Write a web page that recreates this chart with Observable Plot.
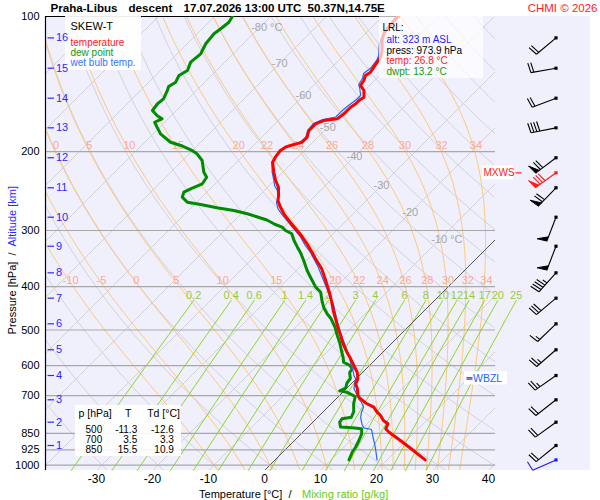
<!DOCTYPE html>
<html><head><meta charset="utf-8">
<script src="https://cdn.jsdelivr.net/npm/d3@7"></script>
<script src="https://cdn.jsdelivr.net/npm/@observablehq/plot@0.6"></script>
<style>
body{margin:0;background:#fff;}
#chart svg{display:block;}
</style>
</head><body><div id="chart"></div>
<script>
// ---------------- data ----------------
const titleParts = ["Praha-Libus", "descent", "17.07.2026 13:00 UTC", "50.37N,14.75E"];
const copyright = "CHMI \u00a9 2026";

const pressureLevels = [100, 200, 300, 400, 500, 600, 700, 850, 925, 1000];
const temperatureTicks = [-30, -20, -10, 0, 10, 20, 30, 40];

const altitudeKm = [16, 15, 14, 13, 12, 11, 10, 9, 8, 7, 6, 5, 4, 3, 2, 1];
const altitudePressure = [111.6, 130.4, 152.1, 177.1, 206.5, 240.9, 280.2, 325.2, 372.8, 424.6, 484.3, 553.4, 631.5, 715.4, 802.5, 904.6];

const tempPressure = [973.9, 915.3, 881.6, 844.9, 830.3, 809.2, 795.5, 775.4, 762.4, 743.1, 727.2, 708.1, 699.8, 676.2, 659.0, 642.3, 620.9, 599.9, 574.9, 560.4, 536.7, 514.3, 492.8, 472.0, 452.3, 437.0, 415.1, 387.8, 365.2, 346.9, 335.3, 321.2, 307.8, 297.4, 285.0, 275.3, 263.9, 257.2, 250.6, 240.2, 232.1, 222.4, 211.3, 205.9, 198.9, 195.6, 193.9, 191.6, 190.5, 185.8, 179.6, 173.5, 170.6, 169.1, 164.8, 159.3, 156.5, 153.9, 151.3, 146.2, 142.5, 138.9, 135.4, 133.1, 129.7, 126.4, 123.2, 119.1, 113.1, 109.3, 105.6, 101.2, 100.0];
const tempValue = [26.8, 21.9, 18.9, 15.4, 14.2, 13.7, 12.3, 10.9, 9.7, 8.2, 6.0, 4.0, 3.3, 2.0, 0.8, 0.3, -1.0, -2.8, -5.0, -6.4, -8.6, -10.5, -12.5, -14.4, -16.3, -17.7, -19.9, -23.0, -25.8, -28.7, -30.5, -32.9, -35.4, -37.6, -40.3, -42.4, -44.6, -45.8, -46.6, -48.1, -49.8, -51.6, -53.6, -54.0, -54.3, -54.0, -53.4, -52.3, -51.9, -51.9, -52.8, -52.8, -51.9, -49.8, -49.5, -49.5, -49.2, -49.2, -48.9, -50.1, -51.6, -51.9, -52.5, -52.2, -52.5, -52.8, -53.1, -54.0, -55.8, -56.7, -57.0, -57.3, -57.1];

const dewPressure = [973.9, 936.3, 912.5, 881.6, 851.9, 830.3, 826.0, 822.6, 802.5, 788.7, 782.2, 759.7, 730.2, 703.4, 688.0, 683.2, 674.1, 656.3, 641.3, 621.8, 610.1, 599.9, 589.8, 574.9, 555.4, 532.3, 514.3, 492.8, 472.0, 460.0, 444.7, 429.7, 411.8, 401.3, 381.3, 368.4, 349.9, 335.3, 326.8, 315.8, 305.1, 300.0, 294.9, 290.9, 284.3, 275.3, 270.7, 267.0, 262.5, 259.4, 252.8, 246.4, 242.2, 236.0, 228.2, 222.4, 209.4, 202.4, 198.9, 193.9, 190.7, 182.6, 176.5, 172.1, 169.1, 166.2, 162.0, 156.5, 152.6, 146.2, 143.2, 140.1, 135.4, 131.9, 126.4, 121.1, 115.0, 109.3, 106.5, 103.0, 100.0];
const dewValue = [13.2, 12.4, 12.1, 11.5, 10.8, 9.9, 8.0, 5.8, 4.8, 4.6, 6.0, 5.4, 4.0, 3.0, 0.7, -0.8, -0.2, -0.9, -1.1, -2.3, -2.5, -3.5, -5.2, -6.2, -7.7, -9.5, -11.1, -13.0, -15.2, -16.8, -18.6, -20.1, -21.8, -23.6, -26.3, -28.1, -30.5, -32.6, -34.0, -35.8, -37.4, -39.1, -40.3, -42.0, -44.3, -48.9, -51.9, -55.4, -58.9, -61.7, -63.5, -64.1, -63.5, -62.3, -62.7, -64.1, -66.5, -68.6, -70.1, -73.0, -75.4, -78.7, -80.5, -81.8, -81.1, -82.6, -84.3, -84.6, -84.4, -85.2, -85.7, -85.2, -85.8, -85.2, -86.1, -85.8, -86.7, -87.0, -86.7, -86.4, -86.8];

const wetPressure = [973.9, 928.0, 896.6, 870.4, 833.2, 826.0, 812.1, 783.4, 762.4, 743.1, 724.2, 711.6, 699.8, 688.0, 676.2, 659.0, 642.3, 631.5, 620.9, 605.2, 589.8, 574.9, 555.4, 536.7, 514.3, 492.8, 472.0, 440.8, 422.5, 401.3, 381.3, 362.2, 346.9, 335.3, 324.0, 310.5, 298.9, 287.5, 276.3, 268.4, 259.4, 254.9, 244.3, 238.1, 232.1, 222.4, 211.3, 205.9, 198.9, 194.9, 191.9, 186.1, 179.6, 173.2, 169.7, 167.5, 162.9, 157.9, 153.1, 150.0, 144.7, 141.8, 137.5, 134.0, 129.9, 125.3, 122.2, 116.1, 112.0, 105.6, 100.0];
const wetValue = [18.2, 16.3, 14.9, 13.6, 11.8, 10.1, 9.2, 7.7, 6.9, 6.4, 5.1, 4.0, 3.2, 2.3, 1.4, 0.6, -0.1, -1.0, -1.7, -2.8, -4.0, -5.0, -6.7, -8.3, -10.4, -12.3, -14.2, -17.1, -19.2, -21.7, -24.2, -26.7, -29.0, -30.8, -32.9, -35.2, -37.6, -40.1, -42.6, -44.3, -45.8, -46.1, -47.7, -49.1, -50.1, -51.9, -53.7, -54.1, -54.5, -54.1, -52.3, -52.1, -53.0, -53.2, -52.3, -50.4, -50.4, -50.2, -49.8, -49.8, -51.2, -52.1, -52.5, -53.2, -52.9, -53.2, -53.7, -55.4, -56.3, -57.0, -57.1];

// wind barbs at altitude levels (km 16 .. 1)
const windDirection = [230, 260, 249, 259, 233, 224, 201, 201, 222, 230, 226, 229, 235, 232, 234, 231];
const windSpeed = [20, 20, 20, 40, 70, 70, 50, 50, 45, 30, 15, 25, 25, 20, 20, 20];
const mxwsPressure = 223.1, mxwsDirection = 234, mxwsSpeed = 80;
const surfacePressure = 973.9, surfaceDirection = 246, surfaceSpeed = 10;
const wbzlPressure = 641;

// background diagram lines
const isothermValues = d3.range(-130, 50, 10);
const isothermLabelTemps = [-80, -70, -60, -50, -40, -30, -20, -10];
const isothermLabelPressure = [106, 127.1, 150, 176.5, 205.2, 238.1, 273.9, 314.7];
const dryAdiabatValues = d3.range(-30, 210, 10);
const moistAdiabatValues = [-10, -5, 0, 5, 10, 15, 20, 22, 24, 26, 28, 30, 32, 34];
const moistLabelsUpper = [0, 5, 10, 15, 20, 22, 24, 26, 28, 30, 32, 34];
const mixingRatios = [0.2, 0.4, 0.6, 1, 1.4, 2, 3, 4, 6, 8, 10, 12, 14, 17, 20, 25];

const lrlLines = ["LRL:", "alt: 323 m ASL", "press: 973.9 hPa", "temp: 26.8 \u00b0C", "dwpt: 13.2 \u00b0C"];
const tableLevels = [500, 700, 850];
const tableT = [-11.3, 3.5, 15.5];
const tableTd = [-12.6, 3.3, 10.9];

// ---------------- geometry ----------------
const FONT = "'Liberation Sans', Arial, sans-serif";
const W = 600, H = 500, ML = 45, MR = 105, MT = 16, MB = 30;
const pxPerC = 5.6, pxPerLn = 194.8, x0px = 264;
const pTop = 100;
const pBot = pTop * Math.exp((H - MB - MT) / pxPerLn);
const xMin = (ML - x0px) / pxPerC, xMax = (W - MR - x0px) / pxPerC;
const K = pxPerLn / pxPerC;
const skew = (T, p) => T + K * Math.log(pBot / p);
const px2X = px => xMin + (px - ML) / pxPerC;
const py2P = py => pTop * Math.exp((py - MT) / pxPerLn);

const profile = (P, V) => P.map((p, i) => ({p, X: skew(V[i], p)}));
const tempData = profile(tempPressure, tempValue);
const dewData = profile(dewPressure, dewValue);
const wetData = profile(wetPressure, wetValue);

// physics helpers for the background lines
const es = Tc => 6.112 * Math.exp(17.67 * Tc / (Tc + 243.5));
const lapse = (T, lnp) => {
  const p = Math.exp(lnp), e = es(T - 273.15), rs = 0.622 * e / (p - e);
  return (287.04 * T + 2.501e6 * rs) / (1005.7 + 2.501e6 * 2.501e6 * rs * 0.622 / (287.04 * T * T));
};
const rk4 = (t, x, h) => {
  const k1 = lapse(t, x), k2 = lapse(t + h / 2 * k1, x + h / 2), k3 = lapse(t + h / 2 * k2, x + h / 2), k4 = lapse(t + h * k3, x + h);
  return t + h / 6 * (k1 + 2 * k2 + 2 * k3 + k4);
};
function moistLine(tw) {
  const pts = [];
  let t = tw + 273.15, x = Math.log(1000);
  { let td = t, xd = x; const n = 6, h = (Math.log(pBot) - x) / n; for (let i = 0; i < n; i++) { td = rk4(td, xd, h); xd += h; } pts.push({p: pBot, T: td}); }
  pts.push({p: 1000, T: t});
  const n = 300, h = (Math.log(pTop) - x) / n;
  for (let i = 0; i < n; i++) { t = rk4(t, x, h); x += h; pts.push({p: Math.exp(x), T: t}); }
  return pts.map(d => ({p: d.p, X: skew(d.T - 273.15, d.p), id: tw}));
}
const interpX = (pts, p) => {
  for (let i = 1; i < pts.length; i++) {
    const a = pts[i - 1], b = pts[i];
    if ((a.p - p) * (b.p - p) <= 0) { const f = Math.log(p / a.p) / Math.log(b.p / a.p); return a.X + f * (b.X - a.X); }
  }
  return NaN;
};
const pSamples = d3.range(0, 81).map(i => pBot * Math.pow(pTop / pBot, i / 80));
const dryData = dryAdiabatValues.flatMap(th => pSamples.map(p => ({p, id: th, X: skew((th + 273.15) * Math.pow(p / 1000, 0.2857) - 273.15, p)})));
const moistLines = moistAdiabatValues.map(moistLine);
const moistData = moistLines.flat();
const mixTop = py2P(300);
const mixT = (w, p) => { const e = p * w / (622 + w), L = Math.log(e / 6.112); return 243.5 * L / (17.67 - L); };
const mixData = mixingRatios.flatMap(w => d3.range(0, 11).map(i => { const p = pBot * Math.pow(mixTop / pBot, i / 10); return {p, id: w, X: skew(mixT(w, p), p)}; }));

// wind barbs
const barbX = px2X(555.5);
function barb(p, dir, spd) {
  const L = 25.5, rad = dir * Math.PI / 180;
  const ux = Math.sin(rad), uy = -Math.cos(rad);
  const qx = -uy, qy = ux, tilt = 8 * Math.PI / 180;
  const fx = qx * Math.cos(tilt) + ux * Math.sin(tilt), fy = qy * Math.cos(tilt) + uy * Math.sin(tilt);
  const pt = v => ({X: barbX + v[0] / pxPerC, p: p * Math.exp(v[1] / pxPerLn)});
  const along = d => [d * ux, d * uy];
  const segs = [], tris = [];
  const seg = (a, b) => { const A = pt(a), B = pt(b); segs.push({x1: A.X, y1: A.p, x2: B.X, y2: B.p}); };
  seg([0, 0], along(L));
  let s = Math.round(spd / 5) * 5, d = L;
  const n50 = Math.floor(s / 50); s -= 50 * n50;
  const n10 = Math.floor(s / 10); s -= 10 * n10;
  const n5 = s >= 5 ? 1 : 0;
  for (let i = 0; i < n50; i++) {
    const a = along(d), b = along(d - 4.5), apex = [a[0] + fx * 10, a[1] + fy * 10];
    [a, apex, b].forEach(v => { const P = pt(v); tris.push({X: P.X, p: P.p, id: p + "_" + i}); });
    d -= 6;
  }
  for (let i = 0; i < n10; i++) { const a = along(d); seg(a, [a[0] + fx * 10, a[1] + fy * 10]); d -= 3; }
  if (n5) { if (n50 + n10 === 0) d -= 3; const a = along(d); seg(a, [a[0] + fx * 5, a[1] + fy * 5]); }
  return {segs, tris, dot: pt([0, 0])};
}
const barbsBlack = altitudePressure.map((p, i) => barb(p, windDirection[i], windSpeed[i]));
const barbRed = [barb(mxwsPressure, mxwsDirection, mxwsSpeed)];
const barbBlue = [barb(surfacePressure, surfaceDirection, surfaceSpeed)];
const barbMarks = (list, color) => [
  Plot.link(list.flatMap(b => b.segs), {x1: "x1", y1: "y1", x2: "x2", y2: "y2", stroke: color, strokeWidth: 1.1}),
  Plot.line(list.flatMap(b => b.tris), {x: "X", y: "p", z: "id", fill: color, stroke: color, strokeWidth: 1}),
  Plot.dot(list.map(b => b.dot), {x: "X", y: "p", symbol: "square", r: 1.8, fill: color, stroke: "none"})
];

// text helper placed by pixel position
const label = (str, px, py, o = {}) => Plot.text([str], {x: () => px2X(px), y: () => py2P(py), text: d => d, fontFamily: FONT, fontSize: 11, textAnchor: "start", fill: "black", ...o});
const box = (x1, x2, y1, y2, o = {}) => Plot.rect([0], {x1: () => px2X(x1), x2: () => px2X(x2), y1: () => py2P(y1), y2: () => py2P(y2), fill: "white", ...o});

const gridGray = "#d2d2da";
const chart = Plot.plot({
  width: W, height: H,
  marginLeft: ML, marginRight: MR, marginTop: MT, marginBottom: MB,
  style: {fontFamily: FONT, background: "white"},
  x: {domain: [xMin, xMax], axis: null},
  y: {type: "log", domain: [pBot, pTop], axis: null},
  marks: [
    box(45, 590, 16, 470, {fill: "#f0f0fd"}),
    Plot.link(isothermValues, {x1: d => skew(d, pBot), y1: () => pBot, x2: d => skew(d, pTop), y2: () => pTop, stroke: gridGray, strokeWidth: 1, clip: true}),
    Plot.line(dryData, {x: "X", y: "p", z: "id", stroke: gridGray, strokeWidth: 1, clip: true}),
    Plot.line(moistData, {x: "X", y: "p", z: "id", stroke: "#ffc675", strokeWidth: 1, clip: true}),
    Plot.line(mixData, {x: "X", y: "p", z: "id", stroke: "#90d428", strokeWidth: 1}),
    Plot.link([0], {x1: d => skew(d, pBot), y1: () => pBot, x2: d => skew(d, pTop), y2: () => pTop, stroke: "#555", strokeWidth: 1, clip: true}),
    Plot.ruleY(pressureLevels.slice(1), {y: d => d, x1: () => xMin, x2: () => xMax, stroke: "#a8a8a8", strokeWidth: 1.2}),
    Plot.ruleY([pTop], {y: d => d, x1: () => xMin, x2: () => px2X(397), stroke: "black", strokeWidth: 1.2}),
    Plot.ruleX([xMin], {x: d => d, y1: () => pTop, y2: () => pBot, stroke: "black", strokeWidth: 1.2}),
    // isotherm labels
    Plot.text(isothermLabelTemps.map((t, i) => ({t, p: isothermLabelPressure[i]})).filter(d => d.t !== -80 && d.t !== -10), {x: d => skew(d.t, d.p), y: "p", text: d => String(d.t), fill: "#a6a6a6", fontSize: 11, fontFamily: FONT}),
    Plot.text(isothermLabelTemps.map((t, i) => ({t, p: isothermLabelPressure[i]})).filter(d => d.t === -80 || d.t === -10), {x: d => skew(d.t, d.p), y: "p", text: d => d.t + " \u00b0C", textAnchor: "start", dx: -8, fill: "#a6a6a6", fontSize: 11, fontFamily: FONT}),
    // moist adiabat labels
    Plot.text(moistLabelsUpper, {x: d => interpX(moistLines[moistAdiabatValues.indexOf(d)], py2P(145)), y: () => py2P(145), dx: 3, text: d => String(d), fill: "#ffa890", fontSize: 11, fontFamily: FONT}),
    Plot.text(moistAdiabatValues, {x: d => interpX(moistLines[moistAdiabatValues.indexOf(d)], py2P(279.5)), y: () => py2P(279.5), dx: 2, text: d => String(d), fill: "#ffa890", fontSize: 11, fontFamily: FONT}),
    // mixing ratio labels
    Plot.text(mixingRatios, {x: d => skew(mixT(d, mixTop), mixTop), y: () => py2P(294.5), text: d => String(d), fill: "#99cc33", fontSize: 11, fontFamily: FONT}),
    // profiles
    Plot.line(dewData, {x: "X", y: "p", stroke: "#008c00", strokeWidth: 3, clip: true}),
    Plot.line(wetData, {x: "X", y: "p", stroke: "#2266ff", strokeWidth: 1.2, clip: true}),
    Plot.line(tempData, {x: "X", y: "p", stroke: "#ff0000", strokeWidth: 3, clip: true}),
    // legend box
    box(65, 141, 16, 70, {fillOpacity: 0.92}),
    label("SKEW-T", 70, 26, {fontSize: 11}),
    label("temperature", 70, 42, {fontSize: 10, fill: "#ff1a1a"}),
    label("dew point", 70, 52, {fontSize: 10, fill: "#119911"}),
    label("wet bulb temp.", 70, 62, {fontSize: 10, fill: "#3377ff"}),
    // LRL box
    box(379, 483, 16, 78, {fillOpacity: 0.7}),
    label(lrlLines[0], 382, 27, {fontSize: 10}),
    label(lrlLines[1], 386, 39.5, {fontSize: 10, fill: "#2020ff"}),
    label(lrlLines[2], 386, 50, {fontSize: 10}),
    label(lrlLines[3], 386, 60.5, {fontSize: 10, fill: "#ff1a1a"}),
    label(lrlLines[4], 386, 71, {fontSize: 10, fill: "#119911"}),
    // table box
    box(75, 181, 405, 456, {fillOpacity: 0.9}),
    label("p [hPa]", 78, 413.3, {fontSize: 10.5}),
    label("T", 127.7, 413.3, {fontSize: 10.5, textAnchor: "middle"}),
    label("Td [\u00b0C]", 146.7, 413.3, {fontSize: 10.5}),
    Plot.text(tableLevels, {x: () => px2X(101.7), y: (d, i) => py2P(429.3 + 10 * i), text: d => String(d), textAnchor: "end", fontSize: 10, fontFamily: FONT}),
    Plot.text(tableT, {x: () => px2X(136.7), y: (d, i) => py2P(429.3 + 10 * i), text: d => d.toFixed(1), textAnchor: "end", fontSize: 10, fontFamily: FONT}),
    Plot.text(tableTd, {x: () => px2X(173.3), y: (d, i) => py2P(429.3 + 10 * i), text: d => d.toFixed(1), textAnchor: "end", fontSize: 10, fontFamily: FONT}),
    // MXWS and WBZL markers
    Plot.rect([mxwsPressure], {x1: () => px2X(482), x2: () => px2X(513), y1: d => d * Math.exp(-7 / pxPerLn), y2: d => d * Math.exp(7 / pxPerLn), fill: "white"}),
    Plot.text([mxwsPressure], {x: () => px2X(483), y: d => d, text: () => "MXWS", fill: "#ff2222", fontSize: 10, textAnchor: "start", fontFamily: FONT}),
    Plot.link([mxwsPressure], {x1: () => px2X(515), x2: () => px2X(521), y1: d => d, y2: d => d, stroke: "#ff2222", strokeWidth: 1.2}),
    Plot.rect([wbzlPressure], {x1: () => px2X(464), x2: () => px2X(507), y1: d => d * Math.exp(-6.5 / pxPerLn), y2: d => d * Math.exp(6.5 / pxPerLn), fill: "white"}),
    Plot.link([wbzlPressure], {x1: () => px2X(466), x2: () => px2X(472), y1: d => d * Math.exp(-0.7 / pxPerLn), y2: d => d * Math.exp(-0.7 / pxPerLn), stroke: "#ff2222", strokeWidth: 1.4}),
    Plot.link([wbzlPressure], {x1: () => px2X(466), x2: () => px2X(472), y1: d => d * Math.exp(0.7 / pxPerLn), y2: d => d * Math.exp(0.7 / pxPerLn), stroke: "#2266ff", strokeWidth: 1.4}),
    Plot.text([wbzlPressure], {x: () => px2X(472.5), y: d => d, text: () => "WBZL", fill: "#2266ff", fontSize: 10.5, textAnchor: "start", fontFamily: FONT}),
    // wind barbs
    ...barbMarks(barbsBlack, "black"),
    ...barbMarks(barbRed, "#ff1a1a"),
    ...barbMarks(barbBlue, "#1a1aff"),
    // pressure axis labels
    Plot.text(pressureLevels, {x: () => xMin, y: d => d, dx: -6, text: d => String(d), textAnchor: "end", fontSize: 11, fontFamily: FONT, fill: "black"}),
    // altitude ticks
    Plot.link(altitudePressure, {x1: () => px2X(47), x2: () => px2X(53.5), y1: d => d, y2: d => d, stroke: "#2a2aff", strokeWidth: 1.2}),
    Plot.text(altitudeKm, {x: () => px2X(55.5), y: (d, i) => altitudePressure[i], text: d => String(d), textAnchor: "start", fontSize: 11, fontFamily: FONT, fill: "#2a2aff"}),
    // temperature ticks
    Plot.text(temperatureTicks, {x: d => d, y: () => pBot, dy: 9, text: d => String(d), fontSize: 12, fontFamily: FONT, fill: "black"}),
    // axis titles
    label("Temperature [\u00b0C]  /", 291, 494, {textAnchor: "end"}),
    label("Mixing ratio [g/kg]", 301.5, 494, {fill: "#66cc11"}),
    label("Pressure [hPa]  /", 12, 252, {textAnchor: "end", rotate: -90}),
    label("Altitude [km]", 12, 246, {textAnchor: "start", rotate: -90, fill: "#2a2aff"}),
    // title
    label(titleParts[0], 50, 7.5, {fontWeight: "bold", fontSize: 11.6}),
    label(titleParts[1], 128, 7.5, {fontWeight: "bold", fontSize: 11.6}),
    label(titleParts[2], 183, 7.5, {fontWeight: "bold", fontSize: 11.6}),
    label(titleParts[3], 307, 7.5, {fontWeight: "bold", fontSize: 11.6}),
    label(copyright, 597, 7.5, {textAnchor: "end", fill: "#ff2020", fontSize: 11.5})
  ]
});
document.getElementById("chart").appendChild(chart);
</script>
</body></html>
